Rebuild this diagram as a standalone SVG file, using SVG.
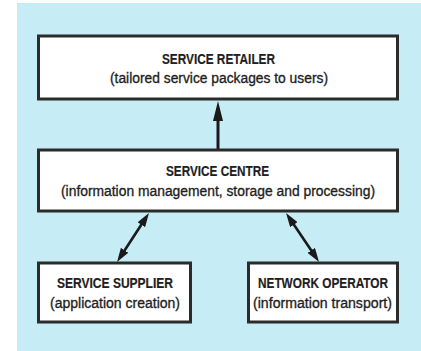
<svg xmlns="http://www.w3.org/2000/svg" width="421" height="351" viewBox="0 0 421 351">
  <style>
    .box { fill: #ffffff; stroke: #2b2b2b; stroke-width: 3; }
    .title { font-family: "Liberation Sans Narrow", "Liberation Sans", Arial, sans-serif; font-weight: bold; font-size: 14.5px; fill: #1e1e1e; stroke: #1e1e1e; stroke-width: 0.2; text-anchor: middle; }
    .sub { font-family: "Liberation Sans Narrow", "Liberation Sans", Arial, sans-serif; font-size: 15.5px; fill: #1e1e1e; stroke: #1e1e1e; stroke-width: 0.35; text-anchor: middle; }
    .conn { stroke: #1a1a1a; fill: none; }
  </style>
  <defs>
    <marker id="headBig" markerUnits="userSpaceOnUse" markerWidth="20" markerHeight="10" viewBox="0 0 20 10" refX="13" refY="5" orient="auto-start-reverse">
      <path d="M0,0 L20,5 L0,10 z" fill="#1a1a1a"/>
    </marker>
    <marker id="headSmall" markerUnits="userSpaceOnUse" markerWidth="14" markerHeight="9" viewBox="0 0 14 9" refX="8" refY="4.5" orient="auto-start-reverse">
      <path d="M0,0 L14,4.5 L0,9 z" fill="#1a1a1a"/>
    </marker>
  </defs>

  <rect x="17" y="3" width="404" height="348" fill="#c6ecf5"/>

  <g id="connectors">
    <line class="conn" x1="218" y1="150" x2="218" y2="108" stroke-width="3" marker-end="url(#headBig)"/>
    <line class="conn" x1="145.7" y1="218" x2="120.3" y2="257" stroke-width="2.6" marker-start="url(#headSmall)" marker-end="url(#headSmall)"/>
    <line class="conn" x1="289.4" y1="218" x2="315.7" y2="257" stroke-width="2.6" marker-start="url(#headSmall)" marker-end="url(#headSmall)"/>
  </g>

  <g id="service-retailer">
    <rect class="box" x="38.5" y="36" width="359" height="63"/>
    <text class="title" x="218.5" y="64" textLength="113" lengthAdjust="spacingAndGlyphs">SERVICE RETAILER</text>
    <text class="sub" x="219" y="83" textLength="218" lengthAdjust="spacingAndGlyphs">(tailored service packages to users)</text>
  </g>

  <g id="service-centre">
    <rect class="box" x="38.5" y="150" width="359" height="61"/>
    <text class="title" x="217.5" y="176" textLength="103" lengthAdjust="spacingAndGlyphs">SERVICE CENTRE</text>
    <text class="sub" x="218" y="196" textLength="314" lengthAdjust="spacingAndGlyphs">(information management, storage and processing)</text>
  </g>

  <g id="service-supplier">
    <rect class="box" x="38.5" y="263" width="152" height="59"/>
    <text class="title" x="115" y="288" textLength="116" lengthAdjust="spacingAndGlyphs">SERVICE SUPPLIER</text>
    <text class="sub" x="115" y="308" textLength="130" lengthAdjust="spacingAndGlyphs">(application creation)</text>
  </g>

  <g id="network-operator">
    <rect class="box" x="248.5" y="263" width="149" height="59"/>
    <text class="title" x="323" y="288" textLength="130" lengthAdjust="spacingAndGlyphs">NETWORK OPERATOR</text>
    <text class="sub" x="322.5" y="308" textLength="139" lengthAdjust="spacingAndGlyphs">(information transport)</text>
  </g>
</svg>
